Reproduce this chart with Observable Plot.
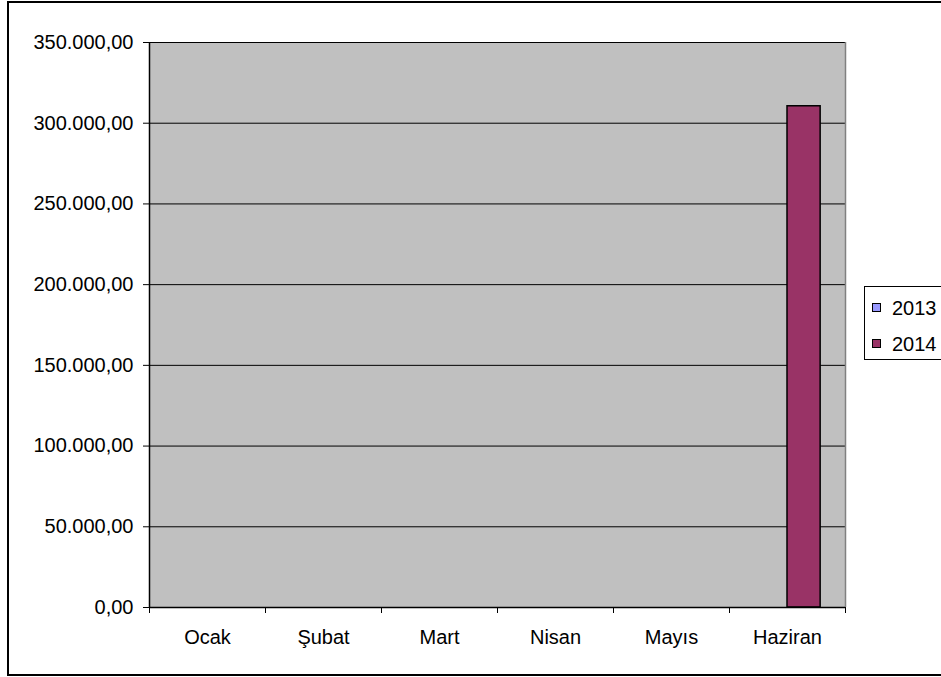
<!DOCTYPE html>
<html>
<head>
<meta charset="utf-8">
<script src="https://cdn.jsdelivr.net/npm/d3@7"></script>
<script src="https://cdn.jsdelivr.net/npm/@observablehq/plot@0.6"></script>
<style>
  html, body { margin: 0; padding: 0; background: #fff; overflow: hidden; }
  #wrap { position: relative; width: 941px; height: 677px; overflow: hidden; font-family: "Liberation Sans", Arial, sans-serif; }
  #border { position: absolute; left: 7px; top: 1px; width: 980px; height: 675px; border: 2px solid #000; box-sizing: border-box; pointer-events: none; }
  #chart { position: absolute; left: 0; top: 0; }
  #legend { position: absolute; left: 864px; top: 286px; width: 120px; height: 74px; border: 1px solid #000; box-sizing: border-box; background: #fff; }
  .item { position: absolute; left: 7px; height: 20px; font-size: 20px; line-height: 20px; color: #000; white-space: nowrap; }
  .sw { position: absolute; left: 0; top: 5px; width: 9px; height: 9px; border: 1px solid #000; box-sizing: border-box; }
  .lbl { position: absolute; left: 20px; top: 0; }
</style>
</head>
<body>
<div id="wrap">
  <div id="chart"></div>
  <div id="legend"></div>
  <div id="border"></div>
</div>
<script>
const months = ["Ocak", "Şubat", "Mart", "Nisan", "Mayıs", "Haziran"];
const years = ["2013", "2014"];
const values2013 = [0, 0, 0, 0, 0, 0];
const values2014 = [0, 0, 0, 0, 0, 310500];
const yTicks = [0, 50000, 100000, 150000, 200000, 250000, 300000, 350000];
const colors = ["#9999FF", "#993366"];

const seriesValues = [values2013, values2014];
const data = [];
years.forEach((yr, j) => {
  months.forEach((m, i) => {
    data.push({ month: m, monthIndex: i, year: yr, yearIndex: j, value: seriesValues[j][i] });
  });
});

// Excel-like clustered layout: 2 bars per category, gap width 150%
const gap = 1.5;
const slots = years.length + gap;
const x1 = d => d.monthIndex + (gap / 2 + d.yearIndex) / slots;
const x2 = d => d.monthIndex + (gap / 2 + d.yearIndex + 1) / slots;

const trFormat = d3.formatLocale({ decimal: ",", thousands: ".", grouping: [3], currency: ["", ""] }).format(",.2f");

const chart = Plot.plot({
  width: 941,
  height: 677,
  marginLeft: 149,
  marginRight: 96,
  marginTop: 42,
  marginBottom: 70,
  style: { fontFamily: "'Liberation Sans', Arial, sans-serif", fontSize: "20px", color: "#000", background: "transparent" },
  x: { domain: [0, months.length], axis: null, label: null },
  y: { domain: [0, 350000], axis: null, label: null },
  color: { domain: years, range: colors },
  marks: [
    Plot.frame({ fill: "#c0c0c0", stroke: "none" }),
    Plot.gridY(yTicks, { stroke: "#000", strokeOpacity: 1 }),
    Plot.ruleX([months.length], { stroke: "#808080", strokeWidth: 1.5 }),
    Plot.rectY(data, { x1, x2, y1: 0, y2: "value", fill: "year", stroke: "#000", strokeWidth: 1.5 }),
    Plot.ruleX([0], { stroke: "#000", strokeWidth: 1.5 }),
    Plot.ruleY([0], { stroke: "#000", strokeWidth: 1.5 }),
    Plot.axisY({ ticks: yTicks, tickFormat: trFormat, tickSize: 6, tickPadding: 10, fontSize: 20, stroke: "#000", label: null }),
    Plot.axisX({ ticks: d3.range(0, months.length + 1), tickSize: 6, tickFormat: () => "", stroke: "#000", label: null }),
    Plot.axisX({ ticks: months.map((_, i) => i + 0.5), tickSize: 0, tickPadding: 22, fontSize: 20, label: null,
                 tickFormat: v => months[Math.floor(v)] })
  ]
});
document.getElementById("chart").appendChild(chart);

const legend = document.getElementById("legend");
const legendTops = [11, 47];
years.forEach((yr, j) => {
  const item = document.createElement("div");
  item.className = "item";
  item.style.top = legendTops[j] + "px";
  const sw = document.createElement("div");
  sw.className = "sw";
  sw.style.background = colors[j];
  const lbl = document.createElement("span");
  lbl.className = "lbl";
  lbl.textContent = yr;
  item.appendChild(sw);
  item.appendChild(lbl);
  legend.appendChild(item);
});
</script>
</body>
</html>
